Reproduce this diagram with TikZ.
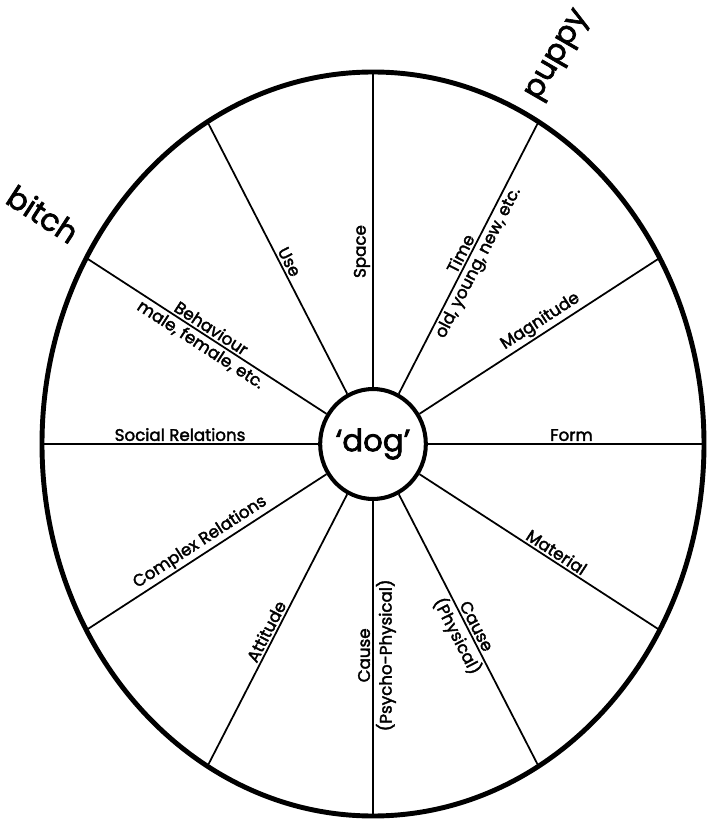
\documentclass[tikz,border=0pt]{standalone}
\usepackage{fontspec}
\setmainfont{Poppins}[FakeBold=2.2]
\usetikzlibrary{shapes.geometric}

\begin{document}
\begin{tikzpicture}[x=0.02cm,y=0.02cm,every node/.style={font=\fontsize{9.5}{11}\selectfont}]
\tikzstyle{spoke}=[line width=1pt]
\tikzstyle{lab}=[sloped,inner sep=1.5pt]
\tikzstyle{big}=[font=\fontsize{17.5}{21}\selectfont]
\useasboundingbox (-373,-377) rectangle (334,444);
\draw[line width=2.8pt] (0,0) ellipse [x radius=331,y radius=372];
\node[ellipse,draw,line width=2.3pt,minimum width=1.84cm,minimum height=2.2cm,inner sep=0pt,font=\fontsize{17.5}{20}\selectfont] (dog) {‘dog’};
% spokes
\foreach \t in {0,30,...,330} \coordinate (o\t) at (\t:331 and 372);
\foreach \t in {0,30,...,330} \draw[spoke] (dog) -- (o\t);
% labels on the spokes
\path (dog) -- (o0) node[lab,above,pos=.52] (form) {Form};
\path (dog) -- (o30) node[lab,above,pos=.53] (magnitude) {Magnitude};
\path (dog) -- (o60) node[lab,above,pos=.5] (time) {Time}
  node[lab,below,pos=.5] (timeb) {old, young, new, etc.};
\path (dog) -- (o90) node[lab,above,pos=.43] (space) {Space};
\path (dog) -- (o120) node[lab,above,pos=.47] (use) {Use};
\path (dog) -- (o150) node[lab,above,pos=.5] (behaviour) {Behaviour}
  node[lab,below,pos=.5] (behaviourb) {male, female, etc.};
\path (dog) -- (o180) node[lab,above,pos=.5] (social) {Social Relations};
\path (dog) -- (o210) node[lab,above,pos=.5] (complex) {Complex Relations};
\path (dog) -- (o240) node[lab,above,pos=.52] (attitude) {Attitude};
\path (o270) -- (dog) node[lab,above,pos=.51] (psycho) {Cause}
  node[lab,below,pos=.51] (psychob) {(Psycho-Physical)};
\path (dog) -- (o300) node[lab,above,pos=.5] (physical) {Cause}
  node[lab,below,pos=.5] (physicalb) {(Physical)};
\path (dog) -- (o330) node[lab,above,pos=.55] (material) {Material};
% outside words
\node[big,rotate=60] (puppy) at (186,388) {puppy};
\node[big,rotate=-33] (bitch) at (-330,230) {bitch};
\end{tikzpicture}
\end{document}
